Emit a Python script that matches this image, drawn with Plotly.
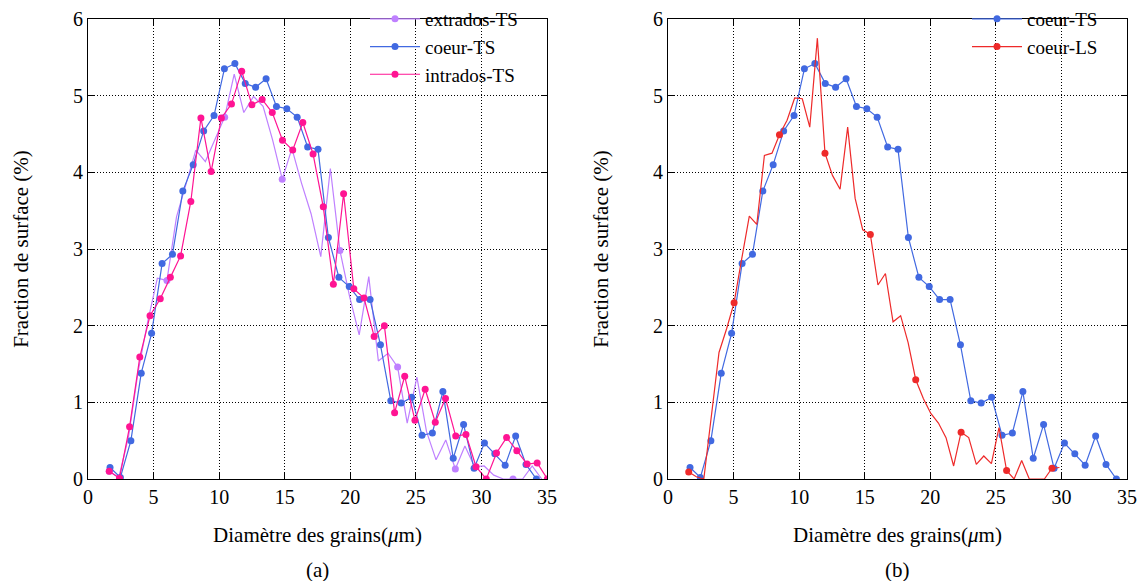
import plotly.graph_objects as go

# ---------------- data ----------------
coeur_ts_x = [1.68, 2.47, 3.27, 4.06, 4.85, 5.65, 6.44, 7.23, 8.02, 8.82, 9.61, 10.40, 11.20, 11.99,
              12.78, 13.58, 14.37, 15.16, 15.95, 16.75, 17.54, 18.33, 19.13, 19.92, 20.71, 21.51,
              22.30, 23.09, 23.88, 24.68, 25.47, 26.26, 27.06, 27.85, 28.64, 29.44, 30.23, 31.02,
              31.81, 32.61, 33.40, 34.19]
coeur_ts_y = [0.15, 0.02, 0.50, 1.38, 1.90, 2.81, 2.93, 3.755, 4.10, 4.54, 4.74, 5.35, 5.42, 5.16,
              5.11, 5.22, 4.86, 4.83, 4.72, 4.33, 4.30, 3.15, 2.63, 2.51, 2.34, 2.34,
              1.75, 1.02, 0.99, 1.065, 0.57, 0.60, 1.14, 0.27, 0.71, 0.14, 0.47, 0.33,
              0.18, 0.56, 0.19, 0.0]

intrados_ts_x = [1.62, 2.40, 3.17, 3.95, 4.73, 5.51, 6.28, 7.06, 7.84, 8.61, 9.39, 10.17, 10.94,
                 11.72, 12.50, 13.28, 14.05, 14.83, 15.61, 16.38, 17.16, 17.94, 18.71, 19.49,
                 20.27, 21.05, 21.82, 22.60, 23.38, 24.15, 24.93, 25.71, 26.48, 27.26, 28.04,
                 28.82, 29.59, 30.37, 31.15, 31.92, 32.70, 33.48, 34.25, 35.03]
intrados_ts_y = [0.10, 0.01, 0.68, 1.59, 2.13, 2.35, 2.63, 2.91, 3.62, 4.71, 4.01, 4.71, 4.89,
                 5.32, 4.88, 4.95, 4.78, 4.42, 4.29, 4.65, 4.24, 3.55, 2.54, 3.72,
                 2.48, 2.36, 1.86, 2.00, 0.865, 1.34, 0.765, 1.17, 0.74, 1.05, 0.56,
                 0.58, 0.16, 0.0, 0.34, 0.54, 0.37, 0.195, 0.21, 0.0]

extrados_ts_x = [1.62, 2.35, 3.09, 3.82, 4.55, 5.29, 6.02, 6.75, 7.48, 8.22, 8.95, 9.68, 10.42,
                 11.15, 11.88, 12.62, 13.35, 14.08, 14.81, 15.55, 16.28, 17.01, 17.75, 18.48,
                 19.21, 19.95, 20.68, 21.41, 22.14, 22.88, 23.61, 24.34, 25.08, 25.81, 26.54,
                 27.28, 28.01, 28.74, 29.47, 30.21, 30.94, 31.67, 32.41, 33.14, 33.87, 34.60]
extrados_ts_y = [0.10, 0.02, 0.55, 1.40, 2.05, 2.62, 2.59, 3.42, 3.85, 4.29, 4.14, 4.42, 4.72,
                 5.28, 4.78, 4.99, 4.86, 4.42, 3.91, 4.31, 3.86, 3.46, 2.90, 4.05,
                 2.98, 2.38, 1.88, 2.64, 1.54, 1.64, 1.46, 0.73, 1.33, 0.62, 0.25,
                 0.51, 0.13, 0.43, 0.16, 0.17, 0.05, 0.0, 0.0, 0.0, 0.17, 0.0]

coeur_ls_x = [1.58, 2.16, 2.73, 3.31, 3.89, 4.47, 5.04, 5.62, 6.20, 6.77, 7.35, 7.93, 8.50, 9.08,
              9.66, 10.24, 10.81, 11.39, 11.97, 12.54, 13.12, 13.70, 14.27, 14.85, 15.43, 16.01,
              16.58, 17.16, 17.74, 18.31, 18.89, 19.47, 20.04, 20.62, 21.20, 21.78, 22.35, 22.93,
              23.51, 24.08, 24.66, 25.24, 25.82, 26.39, 26.97, 27.55, 28.12, 28.70, 29.28, 29.85]
coeur_ls_y = [0.09, 0.03, 0.0, 0.82, 1.65, 1.96, 2.30, 2.87, 3.43, 3.32, 4.22, 4.25, 4.49, 4.68,
              4.97, 4.96, 4.59, 5.75, 4.25, 3.96, 3.78, 4.59, 3.66, 3.25, 3.19, 2.53,
              2.68, 2.05, 2.13, 1.78, 1.295, 1.05, 0.855, 0.73, 0.54, 0.17, 0.61, 0.54,
              0.19, 0.30, 0.20, 0.67, 0.11, 0.0, 0.24, 0.0, 0.0, 0.0, 0.14, 0.15]

x_ticks = [0, 5, 10, 15, 20, 25, 30, 35]
y_ticks = [0, 1, 2, 3, 4, 5, 6]

BLUE = "#4169E1"
PINK = "#FF1493"
PURPLE = "#BF80FF"
RED = "#EE2A2A"
FONT = "'Liberation Serif', 'Times New Roman', Times, 'DejaVu Serif', serif"

fig = go.Figure()

def every(n, k):
    return list(range(0, n, k))

# ----- left panel -----
fig.add_trace(go.Scatter(
    x=extrados_ts_x, y=extrados_ts_y, name="extrados-TS", mode="lines+markers",
    line=dict(color=PURPLE, width=1.2), marker=dict(color=PURPLE, size=7),
    selectedpoints=every(len(extrados_ts_x), 6),
    selected=dict(marker=dict(opacity=1)), unselected=dict(marker=dict(opacity=0)),
    xaxis="x", yaxis="y", legend="legend"))
fig.add_trace(go.Scatter(
    x=coeur_ts_x, y=coeur_ts_y, name="coeur-TS", mode="lines+markers",
    line=dict(color=BLUE, width=1.2), marker=dict(color=BLUE, size=7),
    xaxis="x", yaxis="y", legend="legend"))
fig.add_trace(go.Scatter(
    x=intrados_ts_x, y=intrados_ts_y, name="intrados-TS", mode="lines+markers",
    line=dict(color=PINK, width=1.2), marker=dict(color=PINK, size=7),
    xaxis="x", yaxis="y", legend="legend"))

# ----- right panel -----
fig.add_trace(go.Scatter(
    x=coeur_ts_x, y=coeur_ts_y, name="coeur-TS", mode="lines+markers",
    line=dict(color=BLUE, width=1.2), marker=dict(color=BLUE, size=7),
    xaxis="x2", yaxis="y2", legend="legend2"))
fig.add_trace(go.Scatter(
    x=coeur_ls_x, y=coeur_ls_y, name="coeur-LS", mode="lines+markers",
    line=dict(color=RED, width=1.2), marker=dict(color=RED, size=7),
    selectedpoints=every(len(coeur_ls_x), 6),
    selected=dict(marker=dict(opacity=1)), unselected=dict(marker=dict(opacity=0)),
    xaxis="x2", yaxis="y2", legend="legend2"))

# page body has an 8px margin: the figure is laid out in 1140x573
W, H = 1140, 573
ML, MR, MT, MB = 80, 21, 11, 102
PW = W - ML - MR
PH = H - MT - MB
left_dom = [0, (539 - ML) / PW]
right_dom = [(660 - ML) / PW, 1]

axis_common = dict(
    showline=True, linecolor="black", linewidth=1, mirror="allticks",
    ticks="inside", ticklen=6, tickcolor="black", tickwidth=1,
    showgrid=True, gridcolor="black", gridwidth=1, griddash="1px,2px",
    zeroline=False, automargin=False,
    tickfont=dict(family=FONT, size=20, color="black"),
)

xtitle = dict(text="Diamètre des grains(<i>μ</i>m)", font=dict(family=FONT, size=21, color="black"), standoff=20)
ytitle = dict(text="Fraction de surface (%)", font=dict(family=FONT, size=21, color="black"), standoff=38)

legend_common = dict(xanchor="right", yanchor="top", bgcolor="rgba(255,255,255,0)",
                     font=dict(family=FONT, size=19, color="black"),
                     tracegroupgap=0, itemwidth=50)

fig.update_layout(
    width=W, height=H,
    margin=dict(l=ML, r=MR, t=MT, b=MB, autoexpand=False),
    paper_bgcolor="white", plot_bgcolor="white",
    font=dict(family=FONT, color="black"),
    xaxis=dict(domain=left_dom, range=[0, 35], tickvals=x_ticks, anchor="y", title=xtitle, **axis_common),
    yaxis=dict(domain=[0, 1], range=[0, 6], tickvals=y_ticks, anchor="x", title=ytitle, **axis_common),
    xaxis2=dict(domain=right_dom, range=[0, 35], tickvals=x_ticks, anchor="y2", title=xtitle, **axis_common),
    yaxis2=dict(domain=[0, 1], range=[0, 6], tickvals=y_ticks, anchor="x2", title=ytitle, **axis_common),
    legend=dict(x=(515 - ML) / PW, y=1 + 19 / PH, **legend_common),
    legend2=dict(x=(1095 - ML) / PW, y=1 + 19 / PH, **legend_common),
    annotations=[
        dict(text="(a)", x=sum(left_dom) / 2, y=(471 - 562) / PH, xref="paper", yref="paper",
             xanchor="center", yanchor="middle",
             showarrow=False, font=dict(family=FONT, size=21, color="black")),
        dict(text="(b)", x=sum(right_dom) / 2, y=(471 - 562) / PH, xref="paper", yref="paper",
             xanchor="center", yanchor="middle",
             showarrow=False, font=dict(family=FONT, size=21, color="black")),
    ],
)

fig.write_html("out.html")
